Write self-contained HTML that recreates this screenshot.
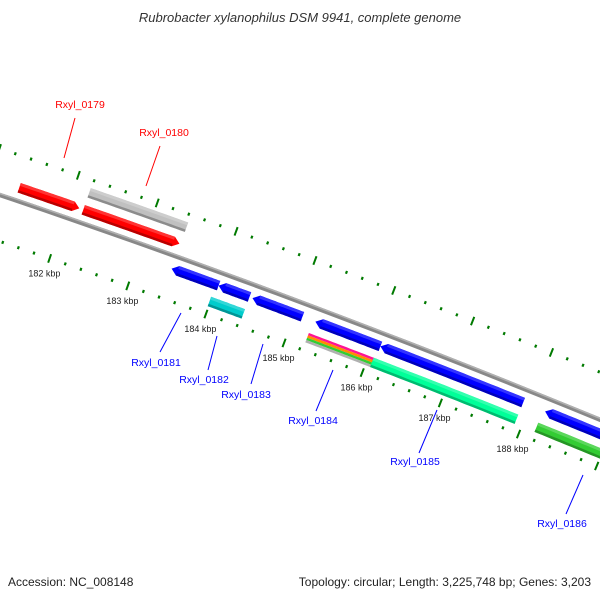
<!DOCTYPE html>
<html><head><meta charset="utf-8"><style>
html,body{margin:0;padding:0;background:#fff;}
svg{display:block;font-family:"Liberation Sans",sans-serif;}
</style></head><body>
<svg id="map" width="600" height="600" viewBox="0 0 600 600">
<text x="300" y="22" text-anchor="middle" font-size="13" font-style="italic" fill="#333">Rubrobacter xylanophilus DSM 9941, complete genome</text>
<g id="g-backbone"></g>
<g id="g-ticks"></g>
<g id="g-features"></g>
<g id="g-labels"></g>
<text x="8" y="586" font-size="12" fill="#222">Accession: NC_008148</text>
<text x="591" y="586" text-anchor="end" font-size="12" fill="#222">Topology: circular; Length: 3,225,748 bp; Genes: 3,203</text>
</svg>
<script>
// data
const featNames  = ['Rxyl_0179','Rxyl_0180','Rxyl_0180b','Rxyl_0181','Rxyl_0182','Rxyl_0183','Rxyl_0184','Rxyl_0185','Rxyl_0186','Rxyl_0182c','Rxyl_0184m','Rxyl_0185s','Rxyl_0186g'];
const featStart  = [181376,182191,182191,183427,184026,184459,185261,186090,188191,183988,185236,186064,188166];
const featEnd    = [182140,183414,183427,184026,184420,185096,186090,187911,189083,184420,186115,187911,189083];
const featStrand = [1,1,1,-1,-1,-1,-1,-1,-1,-1,-1,-1,-1];
const featRow    = [1,1,2,1,1,1,1,1,1,2,2,2,2];
const featColor  = ['#ff0000','#ff0000','#c0c0c0','#0000ff','#0000ff','#0000ff','#0000ff','#0000ff','#0000ff','#00cccc','multi','#00ff99','#33cc33'];
const featArrow  = [1,1,0,1,1,1,1,1,1,0,0,0,0];
const tickKbp    = [181,182,183,184,185,186,187,188,189,190];
const labelText  = ['Rxyl_0179','Rxyl_0180','Rxyl_0181','Rxyl_0182','Rxyl_0183','Rxyl_0184','Rxyl_0185','Rxyl_0186'];
const labelColor = ['red','red','blue','blue','blue','blue','blue','blue'];

const NS='http://www.w3.org/2000/svg';
function bp2s(bp){return 64+(bp-182000)*0.0785;}
function pt(s,off){
  const y=195+0.338*s+6.1e-5*s*s, d=0.338+1.22e-4*s, n=Math.sqrt(1+d*d);
  return [s+off*d/n, y-off/n];
}
function mk(tag,attrs,parent){const e=document.createElementNS(NS,tag);for(const k in attrs)e.setAttribute(k,attrs[k]);parent.appendChild(e);return e;}
function band(s1,s2,o1,o2){
  let a=[],b=[];
  for(let s=s1;s<=s2+0.01;s+=Math.max(1,(s2-s1)/20)){a.push(pt(s,o2));b.push(pt(s,o1));}
  return a.concat(b.reverse());
}
function pstr(p){return p.map(q=>q[0].toFixed(1)+','+q[1].toFixed(1)).join(' ');}

// backbone
const gb=document.getElementById('g-backbone');
let bb=band(-20,640,-2.2,2.2);
const bbEl=mk('polygon',{points:pstr(bb),fill:'#888'},gb);


const bbHi=mk('polygon',{points:pstr(band(-20,640,0.6,2.2)),fill:'#b0b0b0'},gb);



// ticks
const gt=document.getElementById('g-ticks');
for(let k=0;k<tickKbp.length;k++){
  for(let j=0;j<5;j++){
    const bp=tickKbp[k]*1000+j*200, s=bp2s(bp);
    if(s<-30||s>640)continue;
    const len=j===0?4.5:1.5;
    for(const side of [1,-1]){
      const a=pt(s,side*44-len),b=pt(s,side*44+len);
      const l=mk('line',{x1:a[0],y1:a[1],x2:b[0],y2:b[1],stroke:'#007a00','stroke-width':j===0?2:2.2},gt);
      
      
    }
  }
  const s=bp2s(tickKbp[k]*1000);
  const p=pt(s,-60);
  if(p[0]>5&&p[0]<590){
    const t=mk('text',{x:p[0],y:p[1]+3,'text-anchor':'middle','font-size':'9',fill:'#222'},gt);
    t.textContent=tickKbp[k]+' kbp';
    
    
  }
}

// features
const gf=document.getElementById('g-features');
function shade(c,f){const n=parseInt(c.slice(1),16);let r=n>>16,g=(n>>8)&255,b=n&255;
  const m=v=>Math.max(0,Math.min(255,Math.round(f>1?v+(255-v)*(f-1):v*f)));
  return 'rgb('+m(r)+','+m(g)+','+m(b)+')';}
for(let i=0;i<featNames.length;i++){
  const s1=bp2s(featStart[i]), s2=bp2s(featEnd[i]);
  const st=featStrand[i], row=featRow[i];
  let lo=row===1?8:26, hi=row===1?18:36;
  let o1=st>0?lo:-hi, o2=st>0?hi:-lo;
  const g=mk('g',{},gf);
  
  
  if(featColor[i]==='multi'){
    const cols=['#ff1493','#ff8c00','#33cc33','#b0b0b0'];
    const w=(o2-o1)/4;
    for(let c=0;c<4;c++){
      mk('polygon',{points:pstr(band(s1,s2,o2-(c+1)*w,o2-c*w)),fill:cols[c]},g);
    }
    continue;
  }
  let poly;
  const mid=(o1+o2)/2, al=6;
  if(featArrow[i]&&st>0){
    let a=band(s1,s2-al,o1,o2);
    const tip=pt(s2,mid);
    const n=a.length/2;
    poly=a.slice(0,n).concat([tip]).concat(a.slice(n));
  } else if(featArrow[i]&&st<0){
    let a=band(s1+al,s2,o1,o2);
    const tip=pt(s1,mid);
    poly=a.concat([tip]);
  } else poly=band(s1,s2,o1,o2);
  mk('polygon',{points:pstr(poly),fill:featColor[i]},g);
  // bevels
  const h=o2-o1;
  const sa=featArrow[i]&&st>0?s2-al:s2, sb=featArrow[i]&&st<0?s1+al:s1;
  mk('polygon',{points:pstr(band(sb,sa,o2-h*0.3,o2)),fill:shade(featColor[i],1.25),opacity:0.8},g);
  mk('polygon',{points:pstr(band(sb,sa,o1,o1+h*0.25)),fill:shade(featColor[i],0.7),opacity:0.9},g);
}

// gene labels
const gl=document.getElementById('g-labels');
const lblPos=[[80,108],[164,136],[156,366],[204,383],[246,398],[313,424],[415,465],[562,527]];
const lnPos=[[75,118,64,158],[160,146,146,186],[160,352,181,313],[208,370,217,336],[251,384,263,344],[316,411,333,370],[419,453,437,410],[566,514,583,475]];
for(let i=0;i<labelText.length;i++){
  const l=lnPos[i];
  const ln=mk('line',{x1:l[0],y1:l[1],x2:l[2],y2:l[3],stroke:labelColor[i],'stroke-width':1},gl);
  
  
  const t=mk('text',{x:lblPos[i][0],y:lblPos[i][1],'text-anchor':'middle','font-size':'10.5',fill:labelColor[i]},gl);
  t.textContent=labelText[i];
  
  
}
</script>
</body></html>
